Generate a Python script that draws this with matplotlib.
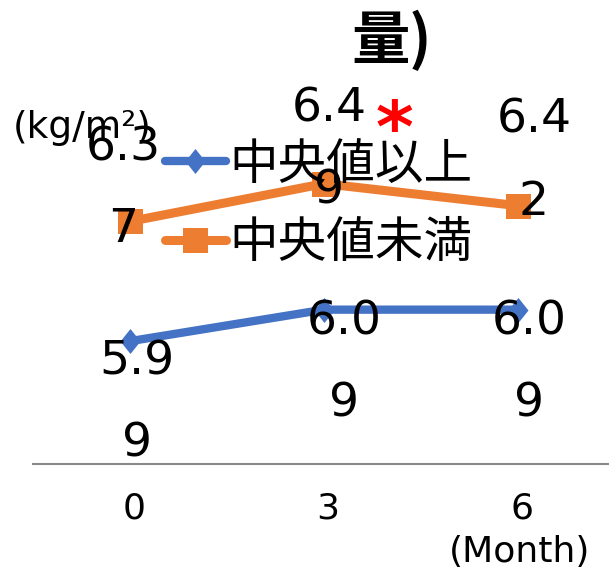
import matplotlib
matplotlib.use("Agg")
import matplotlib.pyplot as plt
from matplotlib.path import Path
from matplotlib.transforms import ScaledTranslation

plt.rcParams['font.family'] = ['Noto Sans CJK JP', 'DejaVu Sans']
LATIN = ['DejaVu Sans', 'Noto Sans CJK JP']

# Data
months = [0, 3, 6]
month_labels = ['0', '3', '6']
series_names = ['中央値以上', '中央値未満']
above_median = [5.99, 6.09, 6.09]
below_median = [6.37, 6.49, 6.42]

BLUE = '#4472C4'
ORANGE = '#ED7D31'
AXIS_GRAY = '#898989'

W, H, DPI = 609, 572, 100
fig = plt.figure(figsize=(W / DPI, H / DPI), dpi=DPI)


def fx(px):
    return px / W


def fy(py):
    return 1 - py / H


ax = fig.add_axes([fx(33), fy(464), 582 / W, 378 / H])
ax.set_xlim(-1.5, 7.5)
ax.set_ylim(5.6, 6.8)

diamond = Path([(0, 1), (0.8, 0), (0, -1), (-0.8, 0), (0, 1)],
               [Path.MOVETO, Path.LINETO, Path.LINETO, Path.LINETO, Path.CLOSEPOLY])

l1, = ax.plot(months, above_median, color=BLUE, lw=6, marker=diamond, ms=18,
              mew=0, solid_capstyle='round', clip_on=False)
l2, = ax.plot(months, below_median, color=ORANGE, lw=6.5, marker='s', ms=18,
              mew=0, solid_capstyle='round', clip_on=False)

# Value labels, wrapped onto two lines; offsets in pixels from each point
LABEL_SIZE = 34
LINE_GAP = 82
above_offsets = [(7, -33), (20, -25), (11, -25)]
below_offsets = [(-7, 61), (5, 62), (16, 73)]
for vals, offs in ((above_median, above_offsets), (below_median, below_offsets)):
    for x, v, (dx, dy) in zip(months, vals, offs):
        s = f'{v:.2f}'
        for i, part in enumerate((s[:3], s[3:])):
            ax.annotate(part, (x, v), xytext=(dx, dy - i * LINE_GAP),
                        textcoords='offset pixels', ha='center', va='baseline',
                        fontsize=LABEL_SIZE, family=LATIN, zorder=6)

# Axes styling
ax.set_xticks(months, month_labels)
ax.set_yticks([])
ax.tick_params(axis='x', length=0, pad=19.5, labelsize=26)
shift = ScaledTranslation(4 / DPI, 0, fig.dpi_scale_trans)
for lab in ax.get_xticklabels():
    lab.set_family(LATIN)
    lab.set_transform(lab.get_transform() + shift)
for side in ('left', 'right', 'top'):
    ax.spines[side].set_visible(False)
ax.spines['bottom'].set_color(AXIS_GRAY)
ax.spines['bottom'].set_linewidth(1.5)
ax.patch.set_alpha(0)

leg = ax.legend([l1, l2], series_names, loc='upper left',
                bbox_to_anchor=(fx(165), fy(140)), bbox_transform=fig.transFigure,
                frameon=False, fontsize=35, handlelength=1.25, handletextpad=0.08,
                labelspacing=0.6, borderpad=0, borderaxespad=0)

fig.text(fx(520), fy(562), '(Month)', ha='center', va='baseline', fontsize=26,
         family=LATIN)
fig.text(fx(13), fy(138), '(kg/m²)', ha='left', va='baseline', fontsize=27,
         family=LATIN)
fig.text(fx(392), fy(59), '量)', ha='center', va='baseline', fontsize=42,
         fontweight='bold')
fig.text(fx(394), fy(152), '*', ha='center', va='baseline', fontsize=52,
         color='#FF0000', family='DejaVu Sans', fontweight='bold')

fig.savefig('out.png', dpi=DPI, facecolor='white')
